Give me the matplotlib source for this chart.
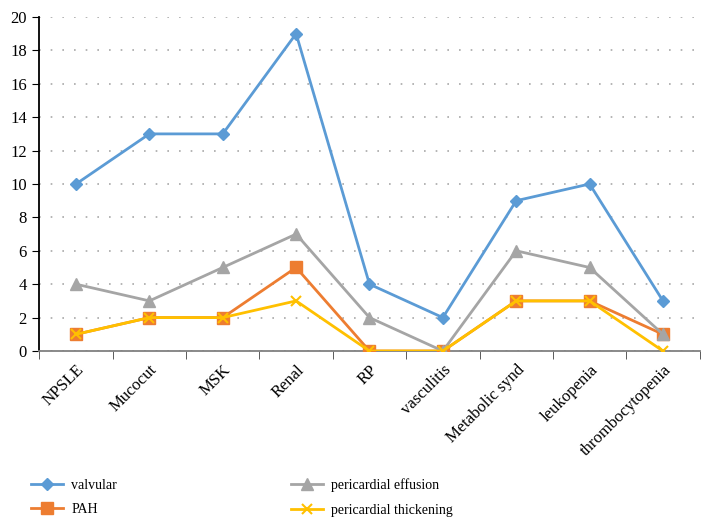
import matplotlib
matplotlib.use("Agg")
import numpy as np
import matplotlib.pyplot as plt
from matplotlib.ticker import FixedLocator

# data
categories = ["NPSLE", "Mucocut", "MSK", "Renal", "RP", "vasculitis",
              "Metabolic synd", "leukopenia", "thrombocytopenia"]
valvular = [10, 13, 13, 19, 4, 2, 9, 10, 3]
pah = [1, 2, 2, 5, 0, 0, 3, 3, 1]
effusion = [4, 3, 5, 7, 2, 0, 6, 5, 1]
thickening = [1, 2, 2, 3, 0, 0, 3, 3, 0]

plt.rcParams["font.family"] = ["Liberation Serif", "DejaVu Serif"]
plt.rcParams["font.size"] = 12

fig = plt.figure(figsize=(7.10, 5.26), dpi=100)
ax = fig.add_axes([0.0554, 0.3327, 0.930, 0.635])

x = np.arange(len(categories))
l1, = ax.plot(x, valvular, color="#5B9BD5", lw=2, marker="D", ms=6,
              label="valvular", zorder=3)
l2, = ax.plot(x, pah, color="#ED7D31", lw=2, marker="s", ms=8,
              label="PAH", zorder=4)
l3, = ax.plot(x, effusion, color="#A5A5A5", lw=2, marker="^", ms=8.5,
              label="pericardial effusion", zorder=5)
l4, = ax.plot(x, thickening, color="#FFC000", lw=2, marker="x", ms=7,
              mew=1.5, label="pericardial thickening", zorder=6)

ax.set_xlim(-0.5, len(categories) - 0.5)
ax.set_ylim(0, 20)
ax.set_yticks(range(0, 21, 2))
ax.yaxis.grid(True, linestyle=(0, (1, 6)), color="#A8A8A8", lw=1.2)
ax.set_axisbelow(True)

# ticks between categories, labels centered on points
ax.set_xticks(x)
ax.set_xticklabels(categories, rotation=45, ha="right",
                   rotation_mode="anchor")
ax.xaxis.set_minor_locator(FixedLocator(np.arange(-0.5, len(categories), 1)))
ax.tick_params(axis="x", which="major", length=0, pad=8)
ax.tick_params(axis="x", which="minor", length=6, color="#404040",
               direction="out")
ax.tick_params(axis="y", length=5, color="black", direction="out", pad=4)

for s in ["top", "right"]:
    ax.spines[s].set_visible(False)
ax.spines["left"].set_color("black")
ax.spines["left"].set_linewidth(1.3)
ax.spines["bottom"].set_color("#808080")
ax.spines["bottom"].set_linewidth(1.3)

legend_kw = dict(loc="upper left", frameon=False, fontsize=10,
                 handlelength=2.3, labelspacing=0.85, handletextpad=0.6)
fig.legend(handles=[l1, l2], bbox_to_anchor=(0.026, 0.114), **legend_kw)
fig.legend(handles=[l3, l4], bbox_to_anchor=(0.392, 0.114), **legend_kw)

fig.savefig("out.png", dpi=100)
